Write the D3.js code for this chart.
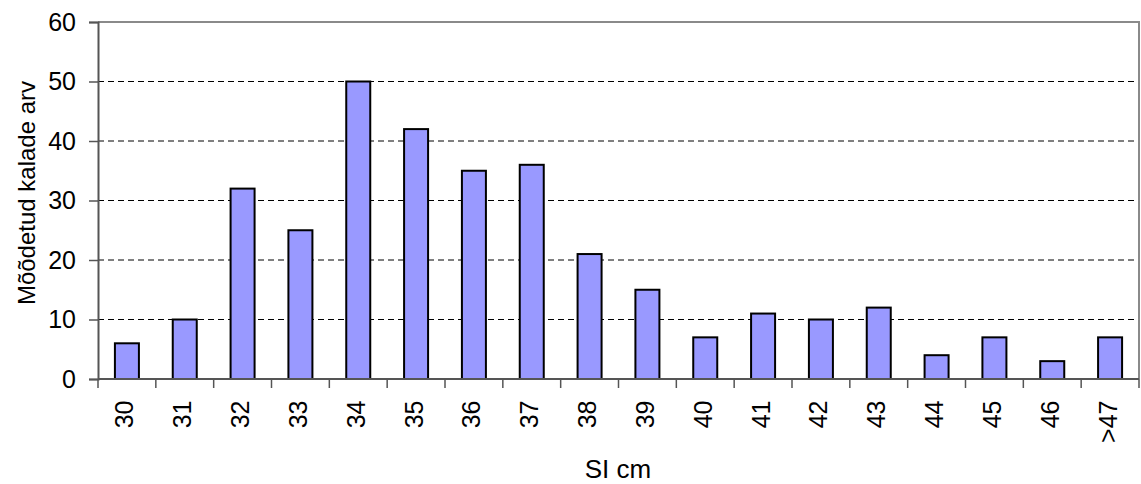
<!DOCTYPE html>
<html><head><meta charset="utf-8">
<script src="https://cdn.jsdelivr.net/npm/d3@7"></script>
<style>body{margin:0;background:#fff;} text{font-family:"Liberation Sans",Arial,sans-serif;fill:#000;}</style>
</head><body>
<svg id="c" width="1141" height="484"></svg>
<script>
const categories = ["30","31","32","33","34","35","36","37","38","39","40","41","42","43","44","45","46",">47"];
const values = [6,10,32,25,50,42,35,36,21,15,7,11,10,12,4,7,3,7];
const yTicks = [0,10,20,30,40,50,60];
const yLabel = "Mõõdetud kalade arv";
const xLabel = "SI cm";

const svg = d3.select("#c");
const L = 98, R = 1139, T = 22, B = 379;
const x = d3.scaleBand().domain(categories).range([L, R]).paddingInner(0.585).paddingOuter(0.2925);
const xb = d3.scaleBand().domain(categories).range([L, R]);
const y = d3.scaleLinear().domain([0, 60]).range([B, T]);

// gridlines
svg.append("g").selectAll("line").data(yTicks.filter(d => d > 0 && d < 60)).join("line")
  .attr("x1", L).attr("x2", R).attr("y1", d => y(d)).attr("y2", d => y(d))
  .attr("stroke", "#000").attr("stroke-width", 1).attr("stroke-dasharray", "6,4");

// plot border top/right
svg.append("path").attr("d", `M${L},${T}H${R}V${B}`).attr("fill", "none").attr("stroke", "#8a8a8a").attr("stroke-width", 2);

// bars
svg.append("g").selectAll("rect").data(values).join("rect")
  .attr("x", (d, i) => x(categories[i]))
  .attr("width", x.bandwidth())
  .attr("y", d => y(d))
  .attr("height", d => B - y(d))
  .attr("fill", "#9999FF").attr("stroke", "#000").attr("stroke-width", 2);

// y axis
const ya = svg.append("g").attr("transform", `translate(${L},0)`)
  .call(d3.axisLeft(y).tickValues(yTicks).tickSize(9).tickPadding(13));
ya.select(".domain").attr("stroke", "#555").attr("stroke-width", 2);
ya.selectAll(".tick line").attr("stroke", "#555").attr("stroke-width", 1.5);
ya.selectAll("text").attr("font-size", 25).attr("font-family", "Liberation Sans, Arial, sans-serif").attr("fill", "#000");

// x axis
const xa = svg.append("g").attr("transform", `translate(0,${B})`);
xa.append("line").attr("x1", L).attr("x2", R).attr("stroke", "#555").attr("stroke-width", 2);
xa.selectAll("line.t").data(categories.concat(["end"])).join("line").attr("class", "t")
  .attr("x1", (d, i) => i < categories.length ? xb(d) : R)
  .attr("x2", (d, i) => i < categories.length ? xb(d) : R)
  .attr("y1", 0).attr("y2", 9).attr("stroke", "#555").attr("stroke-width", 1.5);
xa.selectAll("text").data(categories).join("text")
  .attr("transform", d => `translate(${xb(d) + xb.bandwidth() / 2 + 6.5},21.5) rotate(-90)`)
  .attr("text-anchor", "end").attr("font-size", 25).text(d => d);

// axis titles
svg.append("text").attr("transform", `translate(35,193) rotate(-90)`)
  .attr("text-anchor", "middle").attr("font-size", 24).text(yLabel);
svg.append("text").attr("x", 618).attr("y", 478)
  .attr("text-anchor", "middle").attr("font-size", 26).text(xLabel);
</script>
</body></html>
